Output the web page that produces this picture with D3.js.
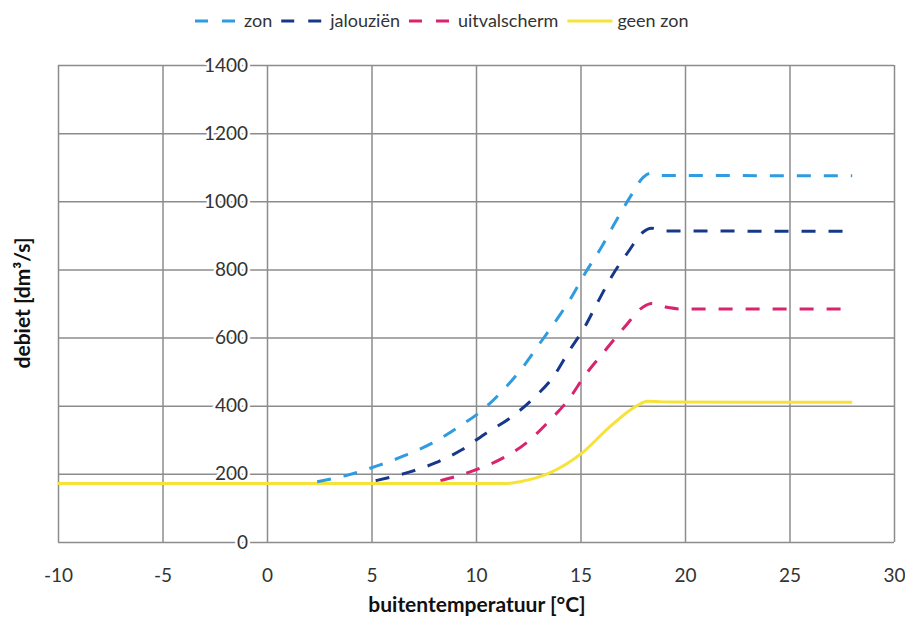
<!DOCTYPE html>
<meta charset="utf-8">
<style>
  body { margin: 0; background: #fff; }
  svg { display: block; font-family: Lato, "Open Sans", sans-serif; }
  .grid line { stroke: #8c8c8c; stroke-width: 1.5; }
  .grid .domain { display: none; }
  .ylab text, .xlab text { font-size: 19px; fill: #333; font-family: Lato, sans-serif; }
  .ylab text { stroke: #fff; stroke-width: 5px; paint-order: stroke; }
  .ylab .domain, .xlab .domain { display: none; }
  .title { font-size: 21px; font-weight: bold; fill: #111; }
  .legend text { font-size: 18px; fill: #333; }
  .series { fill: none; stroke-width: 3; }
</style>
<body>
</body>
<script src="https://cdn.jsdelivr.net/npm/d3@7/dist/d3.min.js"></script>
<script>
  // values
  const xTicks = [-10, -5, 0, 5, 10, 15, 20, 25, 30];
  const yTicks = [0, 200, 400, 600, 800, 1000, 1200, 1400];

  const zonT = [2.4, 3.9, 5.3, 6.6, 7.9, 9.1, 10.3, 11.3, 12.25, 13.1, 14.0, 14.5, 15.25, 16.0, 16.65, 17.4, 18.0, 18.4, 18.9, 28];
  const zon = [177, 197, 224, 254, 290, 335, 387, 446, 514, 587, 665, 712, 792, 865, 937, 1015, 1070, 1083, 1076, 1075];

  const jalT = [5.2, 6.8, 8.05, 9.3, 10.5, 11.7, 12.75, 13.7, 14.45, 15.2, 15.85, 16.5, 17.3, 18.0, 18.4, 18.9, 28];
  const jal = [180, 205, 232, 270, 320, 367, 422, 485, 560, 631, 707, 780, 853, 910, 921, 913, 912];

  const uitT = [8.3, 9.95, 11.3, 12.45, 13.5, 14.4, 15.25, 16.15, 17.1, 18.0, 18.4, 19.2, 19.8, 28];
  const uit = [180, 211, 247, 293, 355, 416, 492, 560, 630, 690, 700, 688, 684, 684];

  const geenT = [-10, 0, 11.5, 12.1, 13.5, 15.05, 16.4, 17.75, 18.2, 19.3, 28];
  const geen = [172, 172, 172, 177, 202, 260, 338, 402, 413, 411, 410];

  const names = ['zon', 'jalouziën', 'uitvalscherm', 'geen zon'];
  const colors = ['#2f9be0', '#17388a', '#d8246f', '#f5e33a'];
  const dashed = [true, true, true, false];

  const w = 905, h = 618;
  const margin = {l: 58, r: 11, t: 65, b: 76};
  const iw = w - margin.l - margin.r, ih = h - margin.t - margin.b;

  const svg = d3.select('body').append('svg')
    .attr('width', w).attr('height', h);
  const g = svg.append('g')
    .attr('transform', `translate(${margin.l}, ${margin.t})`);

  const x = d3.scaleLinear().domain([-10, 30]).range([0, iw]);
  const y = d3.scaleLinear().domain([0, 1400]).range([ih, 0]);

  // grid
  g.append('g').attr('class', 'grid')
    .attr('transform', `translate(0, ${ih})`)
    .call(d3.axisBottom(x).tickValues(xTicks).tickSize(-ih).tickFormat(''));
  g.append('g').attr('class', 'grid')
    .call(d3.axisLeft(y).tickValues(yTicks).tickSize(-iw).tickFormat(''));

  // y labels sit inside the plot, left of the 0 line
  g.append('g').attr('class', 'ylab')
    .attr('transform', `translate(${x(0)}, 0)`)
    .call(d3.axisLeft(y).tickValues(yTicks).tickSize(0).tickPadding(19).tickFormat(d => String(d)));

  g.append('g').attr('class', 'xlab')
    .attr('transform', `translate(0, ${ih})`)
    .call(d3.axisBottom(x).tickValues(xTicks).tickSize(0).tickPadding(27).tickFormat(d => String(d)));

  const line = d3.line()
    .x(d => x(d[0])).y(d => y(d[1]))
    .curve(d3.curveMonotoneX);

  const series = [
    d3.zip(zonT, zon),
    d3.zip(jalT, jal),
    d3.zip(uitT, uit),
    d3.zip(geenT, geen)
  ];

  // yellow line first, dashed ones on top
  [3, 2, 1, 0].forEach(i => {
    g.append('path')
      .attr('class', 'series')
      .attr('d', line(series[i]))
      .attr('stroke', colors[i])
      .attr('stroke-dasharray', dashed[i] ? '14 13' : null);
  });

  // axis titles
  svg.append('text').attr('class', 'title')
    .attr('x', 477).attr('y', 612)
    .attr('text-anchor', 'middle')
    .text('buitentemperatuur [°C]');
  svg.append('text').attr('class', 'title')
    .attr('transform', 'translate(30, 303) rotate(-90)')
    .attr('text-anchor', 'middle')
    .text('debiet [dm³/s]');

  // legend
  const legend = svg.append('g').attr('class', 'legend');
  let lx = 195;
  names.forEach((name, i) => {
    const sw = dashed[i] ? 40 : 45;
    legend.append('line')
      .attr('x1', lx).attr('x2', lx + sw)
      .attr('y1', 21).attr('y2', 21)
      .attr('stroke', colors[i])
      .attr('stroke-width', 3)
      .attr('stroke-dasharray', dashed[i] ? '13 14' : null);
    lx += sw + (dashed[i] ? 9 : 5);
    const t = legend.append('text')
      .attr('x', lx).attr('y', 27)
      .text(name);
    lx += t.node().getComputedTextLength() + 9;
  });
</script>
